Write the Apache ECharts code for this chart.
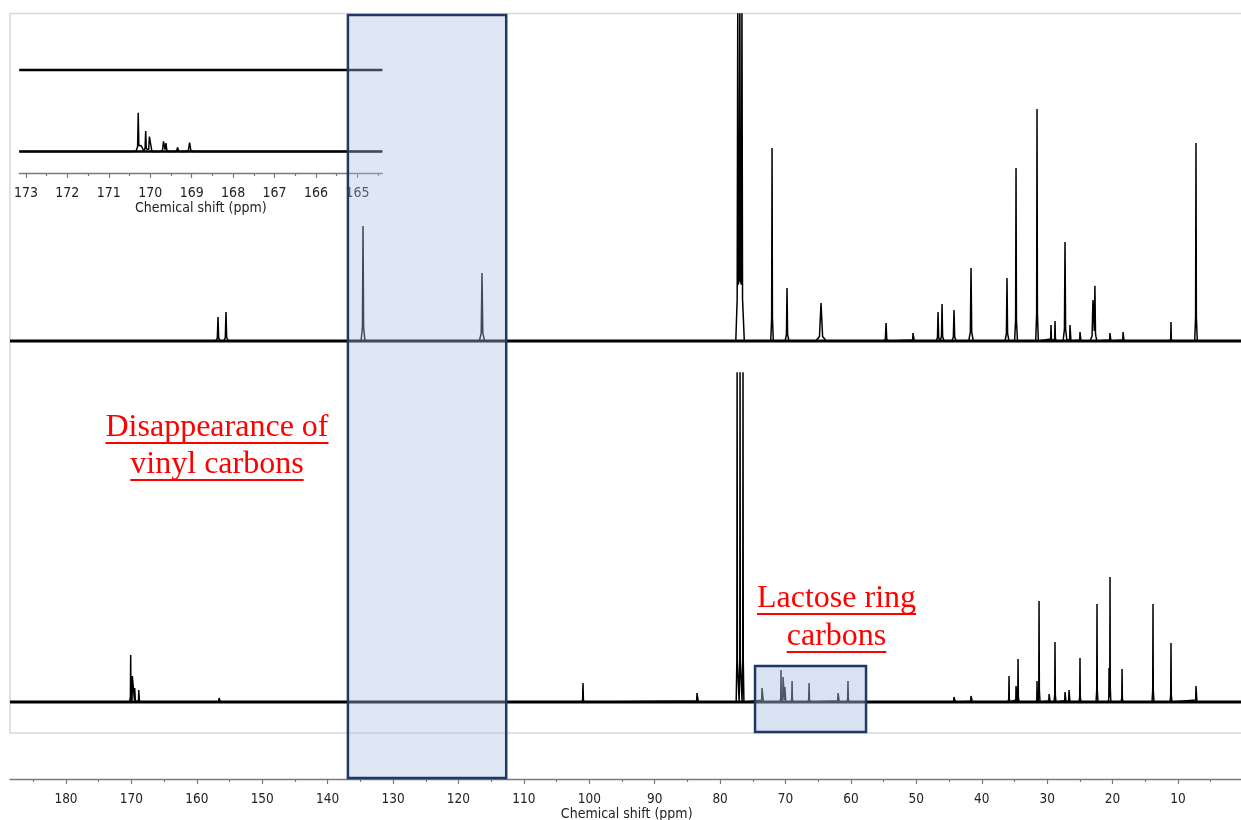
<!DOCTYPE html>
<html><head><meta charset="utf-8">
<script src="https://cdn.jsdelivr.net/npm/echarts@6/dist/echarts.min.js"></script>
<style>html,body{margin:0;padding:0;background:#fff}#c{width:1241px;height:820px}</style>
</head><body><div id="c"></div>
<script>
// ---------------- data ----------------
const ppmMin = 0, ppmMax = 188.56;            // main chemical-shift window (ppm)
const insetMin = 164.4, insetMax = 173.16;     // inset window (ppm)

// peaks: [ppm, intensity, half base width (ppm)]
const topPeaks = [
  [156.76, 24, 0.35], [155.54, 29, 0.35], [134.59, 115, 0.3], [116.40, 68, 0.4],
  [77.30, 345, 0.3], [76.98, 345, 0.3], [76.66, 345, 0.3], [77.0, 10, 0.7],
  [72.06, 193, 0.2], [69.77, 53, 0.3], [64.57, 38, 0.8], [54.63, 18, 0.35], [50.51, 8, 0.2],
  [46.68, 29, 0.3], [46.07, 37, 0.3], [44.24, 31, 0.35], [41.64, 73, 0.35], [36.14, 63, 0.3],
  [34.76, 173, 0.22], [31.55, 232, 0.2], [29.41, 16, 0.2], [28.80, 20, 0.2], [27.27, 99, 0.3],
  [26.51, 16, 0.15], [24.98, 9, 0.15], [23.00, 41, 0.45], [22.70, 53, 0.3], [20.40, 8, 0.15],
  [18.40, 9, 0.15], [11.07, 19, 0.15], [7.25, 198, 0.2]
];
const bottomPeaks = [
  [170.11, 47, 0.15], [169.86, 26, 0.12], [169.50, 14, 0.12], [168.88, 12, 0.12],
  [156.60, 4, 0.2], [100.96, 19, 0.2], [83.53, 9, 0.2],
  [77.40, 345, 0.14], [76.95, 345, 0.14], [76.50, 345, 0.14],
  [73.59, 14, 0.2], [70.69, 32, 0.15], [70.38, 25, 0.15], [70.10, 15, 0.15], [69.00, 21, 0.2],
  [66.40, 19, 0.2], [61.97, 9, 0.2], [60.45, 21, 0.2],
  [44.24, 5, 0.2], [41.64, 6, 0.2], [35.83, 26, 0.15], [34.76, 16, 0.12], [34.45, 43, 0.15],
  [31.55, 21, 0.12], [31.24, 101, 0.15], [29.70, 8, 0.15], [28.80, 60, 0.15], [27.27, 10, 0.15],
  [26.66, 12, 0.15], [24.98, 44, 0.15], [22.38, 98, 0.15], [20.54, 34, 0.12], [20.39, 125, 0.12],
  [18.55, 33, 0.15], [13.82, 98, 0.15], [11.07, 59, 0.15], [7.25, 16, 0.15]
];
const insetTopPeaks = [];
const insetBottomPeaks = [
  [170.29, 38, 0.05], [170.22, 6, 0.2], [170.11, 20, 0.05], [170.02, 15, 0.06],
  [169.68, 10, 0.08], [169.62, 8, 0.07], [169.34, 4, 0.08], [169.05, 9, 0.1]
];

const mainTicks = [10, 20, 30, 40, 50, 60, 70, 80, 90, 100, 110, 120, 130, 140, 150, 160, 170, 180];
const mainMinorTicks = [5, 15, 25, 35, 45, 55, 65, 75, 85, 95, 105, 115, 125, 135, 145, 155, 165, 175, 185];
const insetTicks = [165, 166, 167, 168, 169, 170, 171, 172, 173];
const insetMinorTicks = [164.5, 165.5, 166.5, 167.5, 168.5, 169.5, 170.5, 171.5, 172.5];
const axisTitle = 'Chemical shift (ppm)';

const vinylBox = [136.9, 112.7];          // ppm span of highlighted vinyl region
const lactoseBox = [74.66, 57.69, -30, 36]; // ppm span, intensity span
const vinylText = ['Disappearance of', 'vinyl carbons'];
const lactoseText = ['Lactose ring', 'carbons'];

// ---------------- helpers ----------------
function shape(pk, x) {
  const p = pk[0], h = pk[1], w = pk[2];
  const d = Math.abs(x - p);
  if (d >= w) return 0;
  if (d <= 0.3 * w) return h * (1 - 0.88 * d / (0.3 * w));
  return h * 0.12 * (w - d) / (0.7 * w);
}
function buildSpectrum(peaks, lo, hi, offset) {
  const bps = new Set([lo, hi]);
  peaks.forEach(pk => {
    const p = pk[0], w = pk[2];
    [p - w, p - 0.3 * w, p, p + 0.3 * w, p + w].forEach(v => { if (v >= lo && v <= hi) bps.add(v); });
  });
  const xs = Array.from(bps).sort((a, b) => a - b);
  return xs.map(x => [x, offset + peaks.reduce((s, pk) => s + shape(pk, x), 0)]);
}

const axisFont = '"DejaVu Sans Condensed", "DejaVu Sans", sans-serif';
const axisColor = '#7a7a7a';
const lineCol = '#000';

const chart = echarts.init(document.getElementById('c'), null, {renderer: 'canvas'});

function mainAxis(grid, show) {
  return {type: 'value', gridIndex: grid, min: ppmMin, max: ppmMax, inverse: true, show: show,
          splitLine: {show: false}};
}

const option = {
  animation: false,
  backgroundColor: '#fff',
  grid: [
    {left: 10, width: 1233.4, top: 14, height: 359, outerBoundsMode: 'none'},
    {left: 10, width: 1233.4, top: 373, height: 360, outerBoundsMode: 'none'},
    {left: 19.3, width: 363, top: 20, height: 153, outerBoundsMode: 'none'}
  ],
  xAxis: [
    mainAxis(0, false),
    Object.assign(mainAxis(1, true), {
      position: 'bottom', offset: 46,
      axisLine: {show: true, onZero: false, lineStyle: {color: axisColor, width: 1.3}},
      axisTick: {show: true, customValues: mainTicks, length: 5, lineStyle: {color: axisColor, width: 1.2}},
      axisLabel: {show: true, customValues: mainTicks, margin: 13, fontSize: 13.5, color: '#222', fontFamily: axisFont},
      name: axisTitle, nameLocation: 'middle', nameGap: 25,
      nameTextStyle: {fontSize: 14, color: '#222', fontFamily: axisFont}
    }),
    Object.assign(mainAxis(1, true), {
      position: 'bottom', offset: 46,
      axisLine: {show: false, onZero: false},
      axisTick: {show: true, customValues: mainMinorTicks, length: 3, lineStyle: {color: axisColor, width: 1.2}},
      axisLabel: {show: false}
    }),
    {type: 'value', gridIndex: 2, min: insetMin, max: insetMax, inverse: true, position: 'bottom',
     splitLine: {show: false},
     axisLine: {show: true, onZero: false, lineStyle: {color: axisColor, width: 1.3}},
     axisTick: {show: true, customValues: insetTicks, length: 5, lineStyle: {color: axisColor, width: 1.2}},
     axisLabel: {show: true, customValues: insetTicks, margin: 13, fontSize: 14, color: '#222', fontFamily: axisFont},
     name: axisTitle, nameLocation: 'middle', nameGap: 26,
     nameTextStyle: {fontSize: 14, color: '#222', fontFamily: axisFont}},
    {type: 'value', gridIndex: 2, min: insetMin, max: insetMax, inverse: true, position: 'bottom',
     splitLine: {show: false}, axisLine: {show: false, onZero: false},
     axisTick: {show: true, customValues: insetMinorTicks, length: 3, lineStyle: {color: axisColor, width: 1.2}},
     axisLabel: {show: false}}
  ],
  yAxis: [
    {type: 'value', gridIndex: 0, min: -32, max: 327, show: false, splitLine: {show: false}},
    {type: 'value', gridIndex: 1, min: -31, max: 329, show: false, splitLine: {show: false}},
    {type: 'value', gridIndex: 2, min: 0, max: 153, show: false, splitLine: {show: false}}
  ],
  series: []
};

function addTrace(xi, yi, peaks, lo, hi, offset, baseW) {
  option.series.push({type: 'line', xAxisIndex: xi, yAxisIndex: yi, showSymbol: false, silent: true,
    data: [[lo, offset], [hi, offset]], lineStyle: {color: lineCol, width: baseW}});
  option.series.push({type: 'line', xAxisIndex: xi, yAxisIndex: yi, showSymbol: false, silent: true,
    data: buildSpectrum(peaks, lo, hi, offset), lineStyle: {color: lineCol, width: 1.5}});
}
addTrace(0, 0, topPeaks, ppmMin, ppmMax, 0, 3);
addTrace(1, 1, bottomPeaks, ppmMin, ppmMax, 0, 3);
addTrace(3, 2, insetTopPeaks, insetMin, insetMax, 103, 2.4);
addTrace(3, 2, insetBottomPeaks, insetMin, insetMax, 21.5, 2.4);

chart.setOption(option);

// ---------------- annotations ----------------
const px = v => chart.convertToPixel({xAxisIndex: 1}, v);
const py = v => chart.convertToPixel({yAxisIndex: 1}, v);
const serif = '"Liberation Serif", "Times New Roman", serif';
const ctx = document.createElement('canvas').getContext('2d');
ctx.font = '32px ' + serif;

const g = [];
g.push({type: 'rect', z: 0, silent: true, shape: {x: 10, y: 13.5, width: 1240, height: 719.5},
        style: {fill: 'none', stroke: '#d8d8d8', lineWidth: 1.5}});
const vx1 = px(vinylBox[0]), vx2 = px(vinylBox[1]);
g.push({type: 'rect', z: 50, silent: true, shape: {x: vx1, y: 15, width: vx2 - vx1, height: 763},
        style: {fill: 'rgba(170,190,226,0.38)', stroke: '#203864', lineWidth: 2.5}});
const lx1 = px(lactoseBox[0]), lx2 = px(lactoseBox[1]);
const ly1 = py(lactoseBox[3]), ly2 = py(lactoseBox[2]);
g.push({type: 'rect', z: 50, silent: true, shape: {x: lx1, y: ly1, width: lx2 - lx1, height: ly2 - ly1},
        style: {fill: 'rgba(170,190,226,0.45)', stroke: '#203864', lineWidth: 2.5}});

function addLabel(lines, cx, baselines) {
  lines.forEach((t, i) => {
    const w = ctx.measureText(t).width;
    g.push({type: 'text', z: 60, silent: true, x: cx, y: baselines[i] - 10.8,
            style: {text: t, fill: '#ff0000', font: '32px ' + serif, align: 'center', verticalAlign: 'middle'}});
    g.push({type: 'line', z: 60, silent: true,
            shape: {x1: cx - w / 2, y1: baselines[i] + 5, x2: cx + w / 2, y2: baselines[i] + 5},
            style: {stroke: '#ff0000', lineWidth: 1.8}});
  });
}
addLabel(vinylText, 217, [438, 475]);
addLabel(lactoseText, 836.5, [609, 647]);

chart.setOption({graphic: {elements: g}});
</script></body></html>
